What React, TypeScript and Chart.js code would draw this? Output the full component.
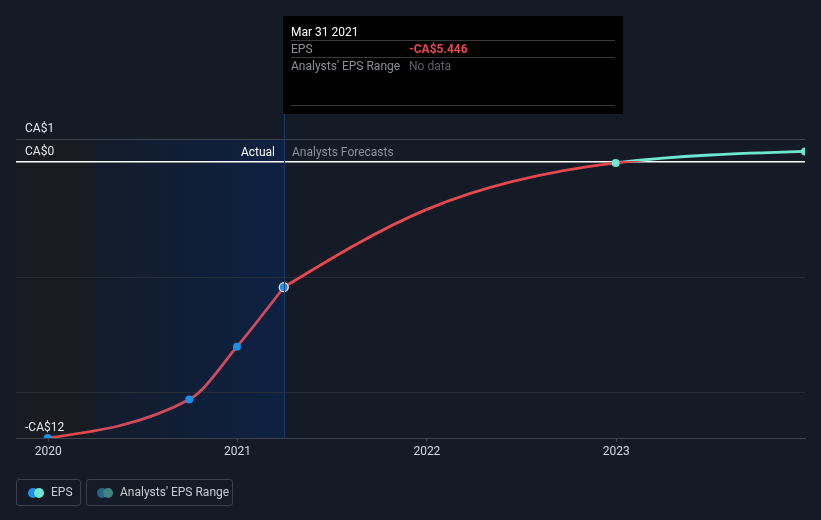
import { useEffect, useRef } from "react";
import { Chart, registerables } from "chart.js";

Chart.register(...registerables);

// ---- data ----
const actualDates = [2019.997, 2020.745, 2020.997, 2021.244];
const actualEps = [-12.0, -10.33, -8.03, -5.446];
const forecastDates = [2021.244, 2021.997, 2022.997, 2023.997];
const forecastEps = [-5.446, -2.07, -0.04, 0.46];
const forecastMarkers = [0, 0, 4, 4];
const yTicks = [-12, -10, -5, 0, 1];
const yLabelValues = [-12, 0, 1];
const xTicks = [2020, 2021, 2022, 2023];
const xMin = 2019.83;
const xMax = 2023.997;
const shadeStart = 2020.244; // Mar 31 2020
const hoverIndex = 3; // Mar 31 2021
const tooltipTitle = "Mar 31 2021";
const tooltipRows = [
  { label: "EPS", value: "-CA$5.446", valueColor: "#e5484d", bold: true },
  { label: "Analysts' EPS Range", value: "No data", valueColor: "#5b5f66", bold: false },
];

// ---- style ----
const BG = "#151b26";
const RED = "#e5484d";
const RED_SHADED = "#d04a5e";
const CYAN = "#6ee7d2";
const BLUE = "#1e8fe6";
const FONT = "Roboto, 'Noto Sans', sans-serif";

const fmt = (v: number) => (v < 0 ? `-CA$${-v}` : `CA$${v}`);

// monotone-x curve (d3 style) computed separately for the actual and forecast runs
const monotonePlugin = {
  id: "monotoneX",
  beforeDatasetDraw(chart: any, args: any) {
    const meta = args.meta;
    const line = meta.dataset;
    if (!line) return;
    line.updateControlPoints(chart.chartArea, meta.iScale.axis);
    const pts = meta.data;
    const nA = actualDates.length;
    const apply = (from: number, to: number) => {
      const idx: number[] = [];
      for (let i = from; i <= to; i++) idx.push(i);
      const xs = idx.map((i) => pts[i].x);
      const ys = idx.map((i) => pts[i].y);
      const n = xs.length;
      const sgn = (v: number) => (v < 0 ? -1 : 1);
      const t = new Array(n).fill(0);
      for (let i = 1; i < n - 1; i++) {
        const h0 = xs[i] - xs[i - 1];
        const h1 = xs[i + 1] - xs[i];
        const s0 = (ys[i] - ys[i - 1]) / h0;
        const s1 = (ys[i + 1] - ys[i]) / h1;
        const p = (s0 * h1 + s1 * h0) / (h0 + h1);
        t[i] = (sgn(s0) + sgn(s1)) * Math.min(Math.abs(s0), Math.abs(s1), 0.5 * Math.abs(p)) || 0;
      }
      if (n > 2) {
        t[0] = (3 * (ys[1] - ys[0]) / (xs[1] - xs[0]) - t[1]) / 2;
        t[n - 1] = (3 * (ys[n - 1] - ys[n - 2]) / (xs[n - 1] - xs[n - 2]) - t[n - 2]) / 2;
      } else {
        t[0] = t[1] = (ys[1] - ys[0]) / (xs[1] - xs[0]);
      }
      for (let k = 0; k < n - 1; k++) {
        const dx = (xs[k + 1] - xs[k]) / 3;
        const a = pts[idx[k]];
        const b = pts[idx[k + 1]];
        a.cp2x = xs[k] + dx;
        a.cp2y = ys[k] + dx * t[k];
        b.cp1x = xs[k + 1] - dx;
        b.cp1y = ys[k + 1] - dx * t[k + 1];
      }
    };
    apply(0, nA - 1);
    apply(nA - 1, pts.length - 1);
    line._path = undefined;
  },
};

const decorPlugin = {
  id: "decor",
  beforeDraw(chart: any) {
    const { ctx, chartArea: ca, scales } = chart;
    if (!ca) return;
    const xs = scales.x.getPixelForValue(shadeStart);
    const xh = scales.x.getPixelForValue(actualDates[hoverIndex]);
    ctx.save();
    ctx.fillStyle = BG;
    ctx.fillRect(0, 0, chart.width, chart.height);
    // left darker band
    ctx.fillStyle = "#181b22";
    ctx.fillRect(ca.left, ca.top, xs - ca.left, ca.bottom - ca.top);
    // actual shade
    const g = ctx.createLinearGradient(xs, 0, xh, 0);
    g.addColorStop(0, "#131c2b");
    g.addColorStop(1, "#0d2142");
    ctx.fillStyle = g;
    ctx.fillRect(xs, ca.top, xh - xs, ca.bottom - ca.top);
    ctx.restore();
  },
  afterDraw(chart: any) {
    const { ctx, chartArea: ca, scales } = chart;
    const xh = Math.round(scales.x.getPixelForValue(actualDates[hoverIndex]));
    const y0 = scales.y.getPixelForValue(0);
    ctx.save();
    const boxTop = 16;
    const boxH = 98;
    // vertical hover line
    ctx.strokeStyle = "#1b3a66";
    ctx.lineWidth = 1;
    ctx.beginPath();
    ctx.moveTo(xh + 0.5, boxTop + boxH);
    ctx.lineTo(xh + 0.5, ca.bottom);
    ctx.stroke();

    // Actual / Forecast labels
    ctx.font = `12px ${FONT}`;
    ctx.textBaseline = "middle";
    ctx.textAlign = "right";
    ctx.fillStyle = "#ffffff";
    ctx.fillText("Actual", xh - 9, y0 - 9);
    ctx.textAlign = "left";
    ctx.fillStyle = "#8a8f98";
    ctx.fillText("Analysts Forecasts", xh + 8, y0 - 9);

    // tooltip
    const bx = xh - 1;
    const bw = 340;
    ctx.fillStyle = "#000000";
    ctx.fillRect(bx, boxTop, bw, boxH);
    const lx = bx + 8;
    const rx = bx + bw - 8;
    ctx.fillStyle = "#ffffff";
    ctx.font = `12px ${FONT}`;
    ctx.fillText(tooltipTitle, lx, boxTop + 16.5);
    ctx.strokeStyle = "#3a3a3a";
    const seps = [boxTop + 24.5, boxTop + 41.5, boxTop + 89.5];
    seps.forEach((sy) => {
      ctx.beginPath();
      ctx.moveTo(lx, sy);
      ctx.lineTo(rx, sy);
      ctx.stroke();
    });
    tooltipRows.forEach((r, i) => {
      const ry = boxTop + 33.5 + i * 17;
      ctx.font = `12px ${FONT}`;
      ctx.fillStyle = "#8c9096";
      ctx.fillText(r.label, lx, ry);
      ctx.font = `${r.bold ? "bold " : ""}12px ${FONT}`;
      ctx.fillStyle = r.valueColor;
      ctx.fillText(r.value, bx + 126, ry);
    });
    ctx.restore();
  },
};

export default function App() {
  const ref = useRef<HTMLCanvasElement | null>(null);

  useEffect(() => {
    document.body.style.margin = "0";
    document.body.style.background = BG;
    if (!ref.current) return;
    Chart.defaults.font.family = FONT;

    const allDates = actualDates.concat(forecastDates.slice(1));
    const allEps = actualEps.concat(forecastEps.slice(1));
    const nA = actualDates.length;
    const radii = allDates.map((_, i) =>
      i < nA ? (i === hoverIndex ? 4.5 : 4) : forecastMarkers[i - nA + 1]
    );
    const fills = allDates.map((_, i) => (i < nA ? BLUE : CYAN));
    const borders = allDates.map((_, i) => (i === hoverIndex ? "#ffffff" : i < nA ? BLUE : CYAN));
    const borderWidths = allDates.map((_, i) => (i === hoverIndex ? 1.2 : 0));

    const actualGradient = (chart: any) => {
      const ca = chart.chartArea;
      const xs = chart.scales.x.getPixelForValue(shadeStart);
      const g = chart.ctx.createLinearGradient(ca.left, 0, ca.right, 0);
      const t = Math.min(1, Math.max(0, (xs - ca.left) / (ca.right - ca.left)));
      g.addColorStop(0, RED);
      g.addColorStop(t, RED);
      g.addColorStop(Math.min(1, t + 0.01), RED_SHADED);
      g.addColorStop(1, RED_SHADED);
      return g;
    };
    const forecastGradient = (chart: any) => {
      const ca = chart.chartArea;
      const y0 = chart.scales.y.getPixelForValue(0);
      const g = chart.ctx.createLinearGradient(0, ca.top, 0, ca.bottom);
      const t = Math.min(1, Math.max(0, (y0 - 1 - ca.top) / (ca.bottom - ca.top)));
      g.addColorStop(0, CYAN);
      g.addColorStop(t, CYAN);
      g.addColorStop(t, RED);
      g.addColorStop(1, RED);
      return g;
    };

    const chart = new Chart(ref.current, {
      type: "line",
      data: {
        datasets: [
          {
            label: "EPS",
            data: allDates.map((d, i) => ({ x: d, y: allEps[i] })),
            borderWidth: 2.8,
            borderColor: RED,
            cubicInterpolationMode: "monotone",
            pointRadius: radii,
            pointBackgroundColor: fills,
            pointBorderColor: borders,
            pointBorderWidth: borderWidths,
            segment: {
              borderColor: (c: any) =>
                c.p0DataIndex < hoverIndex ? actualGradient(c.chart) : forecastGradient(c.chart),
            },
          } as any,
        ],
      },
      options: {
        responsive: false,
        animation: false,
        events: [],
        layout: { padding: { left: 16, right: 16, top: 139, bottom: 60 } },
        plugins: {
          legend: { display: false },
          tooltip: { enabled: false },
        },
        scales: {
          x: {
            type: "linear",
            min: xMin,
            max: xMax,
            afterBuildTicks: (s: any) => {
              s.ticks = xTicks.map((v) => ({ value: v }));
            },
            afterFit: (s: any) => {
              s.height = 22;
            },
            ticks: {
              color: "#d5d8dc",
              font: { size: 12 },
              padding: 3,
              maxRotation: 0,
              autoSkip: false,
              callback: (v: any) => String(v),
            },
            grid: {
              display: true,
              drawOnChartArea: false,
              tickLength: 4,
              color: "#3d424c",
            },
            border: { display: true, color: "#3d424c" },
          },
          y: {
            type: "linear",
            min: -12,
            max: 1,
            afterBuildTicks: (s: any) => {
              s.ticks = yTicks.map((v) => ({ value: v }));
            },
            afterFit: (s: any) => {
              s.width = 0;
            },
            ticks: {
              mirror: true,
              padding: 9,
              labelOffset: -10,
              autoSkip: false,
              color: "#e6e8eb",
              font: { size: 12 },
              callback: (v: any) => (yLabelValues.includes(Number(v)) ? fmt(Number(v)) : ""),
            },
            grid: {
              drawTicks: false,
              color: (c: any) =>
                c.tick && c.tick.value === 0
                  ? "#ffffff"
                  : c.tick && c.tick.value === 1
                  ? "#3f444d"
                  : "#262c37",
              lineWidth: (c: any) => (c.tick && c.tick.value === 0 ? 1.5 : 1),
            },
            border: { display: false },
          },
        },
      },
      plugins: [decorPlugin, monotonePlugin],
    } as any);

    return () => chart.destroy();
  }, []);

  const legendBox: any = {
    position: "absolute",
    top: 479,
    height: 27,
    border: "1px solid #3a404b",
    borderRadius: 3,
    boxSizing: "border-box",
    fontFamily: FONT,
    fontSize: 12,
    color: "#c9ccd1",
  };
  const dot = (left: number, color: string): any => ({
    position: "absolute",
    left,
    top: 8,
    width: 10,
    height: 10,
    borderRadius: "50%",
    background: color,
  });
  const label = (left: number): any => ({
    position: "absolute",
    left,
    top: 0,
    lineHeight: "25px",
    whiteSpace: "nowrap",
  });

  return (
    <div style={{ position: "relative", width: 821, height: 520, background: BG }}>
      <canvas ref={ref} width={821} height={520} style={{ display: "block" }} />
      <div style={{ ...legendBox, left: 16, width: 65 }}>
        <div style={dot(11, BLUE)} />
        <div style={dot(17, CYAN)} />
        <div style={label(34)}>EPS</div>
      </div>
      <div style={{ ...legendBox, left: 86, width: 147 }}>
        <div style={dot(10, "#28628d")} />
        <div style={dot(16, "#3f857f")} />
        <div style={label(33)}>Analysts' EPS Range</div>
      </div>
    </div>
  );
}
